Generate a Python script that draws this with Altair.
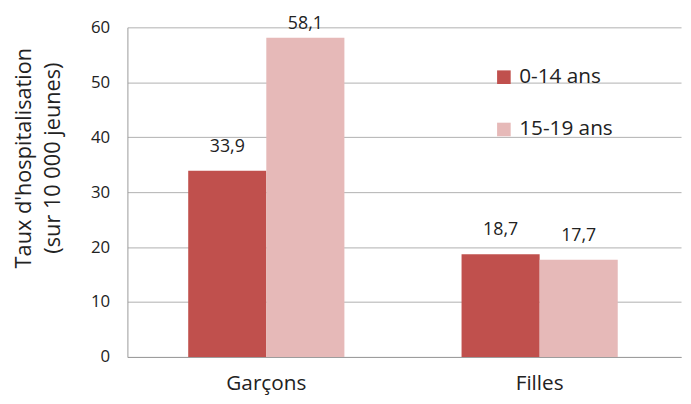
import altair as alt
import pandas as pd

groups = ["Garçons", "Garçons", "Filles", "Filles"]
ages = ["0-14 ans", "15-19 ans", "0-14 ans", "15-19 ans"]
values = [33.9, 58.1, 18.7, 17.7]
labels = ["33,9", "58,1", "18,7", "17,7"]

df = pd.DataFrame({"groupe": groups, "age": ages, "valeur": values, "label": labels})

FONT = "Open Sans"
x_sort = ["Garçons", "Filles"]
age_sort = ["0-14 ans", "15-19 ans"]

x_scale = alt.Scale(paddingInner=0.4286, paddingOuter=0.227, align=0.49)
y_scale = alt.Scale(domain=[0, 60])

base = alt.Chart(df).encode(
    x=alt.X("groupe:N", sort=x_sort, scale=x_scale,
            axis=alt.Axis(title=None, labelAngle=0, labelFontSize=21, labelColor="#222222",
                          labelPadding=16, ticks=False, domainColor="#9a9a9a", labelFont=FONT)),
    xOffset=alt.XOffset("age:N", sort=age_sort),
    y=alt.Y("valeur:Q", scale=y_scale,
            axis=alt.Axis(values=[0, 10, 20, 30, 40, 50, 60],
                          title=["Taux d'hospitalisation", "(sur 10 000 jeunes)"],
                          titleFontSize=22, titleFont=FONT, titleFontWeight="normal", titleColor="#222222",
                          titleX=-115, titleY=132, titleAngle=-90, titleBaseline="top",
                          titleLineHeight=29,
                          labelFontSize=17, labelColor="#222222", labelPadding=18, labelFont=FONT,
                          ticks=False, domainColor="#9a9a9a", gridColor="#b0b0b0")),
)

bars = base.mark_bar().encode(
    color=alt.Color("age:N", sort=age_sort,
                    scale=alt.Scale(domain=age_sort, range=["#C0504D", "#E6B9B8"]),
                    legend=alt.Legend(title=None, orient="none", legendX=371, legendY=40,
                                      symbolType="square", symbolSize=190, symbolStrokeWidth=0,
                                      labelFontSize=21, labelFont=FONT, labelColor="#222222",
                                      rowPadding=31, labelOffset=5)),
)

text_low = base.transform_filter("datum.valeur < 55").mark_text(
    baseline="alphabetic", dy=-19, fontSize=18, font=FONT, color="#222222"
).encode(text="label:N")

text_high = base.transform_filter("datum.valeur >= 55").mark_text(
    baseline="alphabetic", dy=-9, fontSize=18, font=FONT, color="#222222"
).encode(text="label:N")

chart = (bars + text_low + text_high).properties(
    width=561, height=334,
    autosize=alt.AutoSizeParams(type="none"),
    padding={"left": 121, "top": 17, "right": 2, "bottom": 40},
).configure_view(stroke=None)

chart.save("out.html", embed_options={"renderer": "svg", "actions": False})
